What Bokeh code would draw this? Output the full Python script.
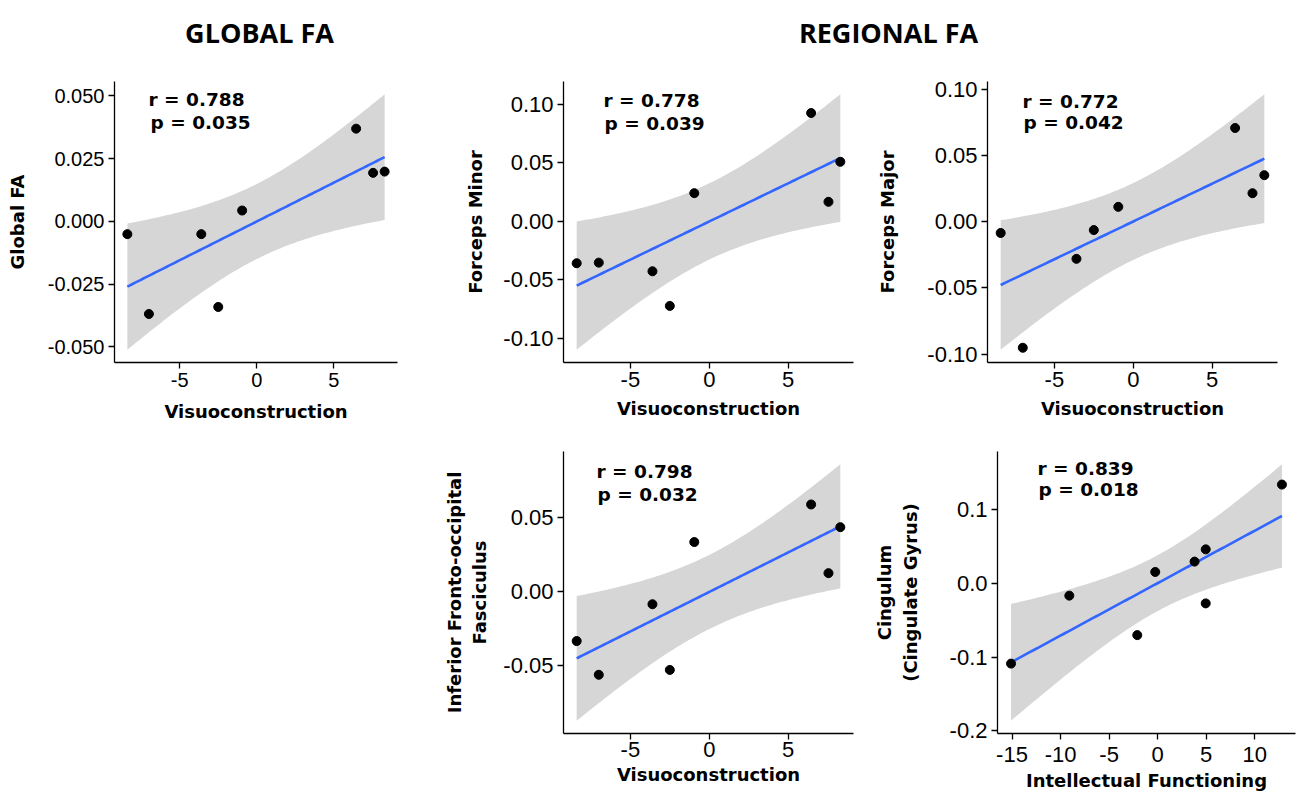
import numpy as np
from bokeh.plotting import figure
from bokeh.layouts import column, row
from bokeh.models import Range1d, FixedTicker, NumeralTickFormatter, Label, Spacer
from bokeh.core.properties import value
from bokeh.embed import file_html
from bokeh.resources import INLINE

# ---------------- data ----------------
visuo = [-8.4, -7.0, -3.6, -2.5, -0.95, 6.45, 7.55, 8.3]
global_fa = [-0.0051, -0.0369, -0.0051, -0.0341, 0.0043, 0.0369, 0.0193, 0.0198]
forceps_minor = [-0.0359, -0.0354, -0.0428, -0.0724, 0.0240, 0.0925, 0.0166, 0.0508]
forceps_major = [-0.0085, -0.0951, -0.0280, -0.0063, 0.0112, 0.0707, 0.0215, 0.0351]
ifof = [-0.0336, -0.0565, -0.0086, -0.0532, 0.0336, 0.0591, 0.0125, 0.0437]
intellect = [-15.1, -9.1, -2.1, -0.25, 3.8, 4.95, 4.95, 12.8]
cingulum = [-0.1088, -0.0167, -0.0702, 0.0154, 0.0294, 0.0460, -0.0272, 0.1338]

titles = ["GLOBAL FA", "REGIONAL FA"]
r_texts = ["r = 0.788", "r = 0.778", "r = 0.772", "r = 0.798", "r = 0.839"]
p_texts = ["p = 0.035", "p = 0.039", "p = 0.042", "p = 0.032", "p = 0.018"]
x_labels = ["Visuoconstruction", "Visuoconstruction", "Visuoconstruction",
            "Visuoconstruction", "Intellectual Functioning"]
y_labels = ["Global FA", "Forceps Minor", "Forceps Major",
            "Inferior Fronto-occipital\nFasciculus", "Cingulum\n(Cingulate Gyrus)"]
visuo_ticks = [-5, 0, 5]
intellect_ticks = [-15, -10, -5, 0, 5, 10]
global_ticks = [-0.05, -0.025, 0.0, 0.025, 0.05]
forceps_ticks = [-0.10, -0.05, 0.0, 0.05, 0.10]
ifof_ticks = [-0.05, 0.0, 0.05]
cing_ticks = [-0.2, -0.1, 0.0, 0.1]

T_975_DF6 = 2.446912  # t quantile for 95% CI, n-2 = 6 degrees of freedom

BAND = "#D6D6D6"
LINE = "#3366FF"
LABEL_FONT = "DejaVu Sans"


def fit_band(x, y):
    x = np.asarray(x, float)
    y = np.asarray(y, float)
    n = len(x)
    b1, b0 = np.polyfit(x, y, 1)
    resid = y - (b0 + b1 * x)
    s = np.sqrt(np.sum(resid ** 2) / (n - 2))
    xbar = x.mean()
    sxx = np.sum((x - xbar) ** 2)
    xg = np.linspace(x.min(), x.max(), 100)
    yg = b0 + b1 * xg
    se = s * np.sqrt(1.0 / n + (xg - xbar) ** 2 / sxx)
    return xg, yg, yg - T_975_DF6 * se, yg + T_975_DF6 * se


def expand(lo, hi, f=0.05):
    d = (hi - lo) * f
    return lo - d, hi + d


def panel(x, y, xlab, ylab, xticks, yticks, yfmt, r_txt, p_txt,
          canvas, frame, txt_pos, tick_size, ylab_standoff, xtick_standoff, xlab_standoff):
    # canvas = (left, top, width, height) and frame = (left, top, right, bottom), page pixels
    cx, cy, w, h = canvas
    fl, ft, fr, fb = frame
    mbl, mbt = fl - cx, ft - cy
    mbr, mbb = cx + w - fr, cy + h - fb
    fw, fh = fr - fl, fb - ft

    xg, yg, lo, hi = fit_band(x, y)
    x0, x1 = expand(min(x), max(x))
    y0, y1 = expand(min(min(y), lo.min()), max(max(y), hi.max()))
    p = figure(width=w, height=h, x_range=Range1d(x0, x1), y_range=Range1d(y0, y1),
               output_backend="svg", toolbar_location=None, title=None,
               min_border_left=mbl, min_border_right=mbr,
               min_border_top=mbt, min_border_bottom=mbb)
    p.grid.visible = False
    p.outline_line_color = None
    p.background_fill_color = "white"
    p.border_fill_color = "white"

    p.varea(x=xg, y1=lo, y2=hi, fill_color=BAND, fill_alpha=1.0)
    p.line(x=xg, y=yg, line_color=LINE, line_width=2.6)
    p.scatter(x=x, y=y, size=9, fill_color="black", line_color="black")

    for ax in (p.xaxis[0], p.yaxis[0]):
        ax.axis_line_color = "black"
        ax.axis_line_width = 1.3
        ax.major_tick_line_color = "black"
        ax.major_tick_line_width = 1.3
        ax.major_tick_out = 6
        ax.major_tick_in = 0
        ax.minor_tick_line_color = None
        ax.major_label_text_font = "Liberation Sans"
        ax.major_label_text_font_size = tick_size
        ax.major_label_text_color = "black"
        ax.axis_label_text_font = LABEL_FONT
        ax.axis_label_text_font_style = "bold"
        ax.axis_label_text_font_size = "18px"
        ax.axis_label_text_color = "black"

    p.xaxis.ticker = FixedTicker(ticks=xticks)
    p.xaxis.formatter = NumeralTickFormatter(format="0")
    p.xaxis.axis_label = xlab
    p.xaxis.major_label_standoff = xtick_standoff
    p.xaxis.axis_label_standoff = xlab_standoff

    p.yaxis.ticker = FixedTicker(ticks=yticks)
    p.yaxis.formatter = NumeralTickFormatter(format=yfmt)
    p.yaxis.axis_label = ylab
    p.yaxis.major_label_standoff = 4
    p.yaxis.axis_label_standoff = ylab_standoff

    def to_x(px):
        return x0 + (px - fl) / fw * (x1 - x0)

    def to_y(py):
        return y1 - (py - ft) / fh * (y1 - y0)

    (dxr, dyr), (dxp, dyp) = txt_pos
    for txt, dx, dy in ((r_txt, dxr, dyr), (p_txt, dxp, dyp)):
        p.add_layout(Label(x=to_x(fl + dx), y=to_y(ft + dy),
                           text=txt, text_font=LABEL_FONT, text_font_style="bold",
                           text_font_size="18.5px", text_color="black",
                           text_align="left", text_baseline="middle"))
    return p


# title strip (page coordinates: x 0..1298, y 0..50)
tf = figure(width=1298, height=50, x_range=Range1d(0, 1298), y_range=Range1d(50, 0),
            output_backend="svg", toolbar_location=None, title=None,
            x_axis_location=None, y_axis_location=None,
            min_border_left=0, min_border_right=0, min_border_top=0, min_border_bottom=0)
tf.grid.visible = False
tf.outline_line_color = None
tf.text(x=[259, 888], y=[32, 32], text=titles, text_font=value("Open Sans"),
        text_font_style="bold", text_font_size="27px", text_color="black",
        text_align="center", text_baseline="alphabetic")

p1 = panel(visuo, global_fa, x_labels[0], y_labels[0], visuo_ticks, global_ticks, "0.000",
           r_texts[0], p_texts[0], (0, 50, 440, 390), (114, 73, 397, 362),
           ((34, 19), (36, 42)), "20px", 17, 4, 11)
p2 = panel(visuo, forceps_minor, x_labels[1], y_labels[1], visuo_ticks, forceps_ticks, "0.00",
           r_texts[1], p_texts[1], (440, 50, 430, 390), (563, 80, 853, 369),
           ((40, 20), (41, 43)), "22px", 14, 3, 8)
p3 = panel(visuo, forceps_major, x_labels[2], y_labels[2], visuo_ticks, forceps_ticks, "0.00",
           r_texts[2], p_texts[2], (870, 50, 428, 390), (987, 81, 1277, 369),
           ((35, 20), (36, 42)), "22px", 26, 3, 8)
p4 = panel(visuo, ifof, x_labels[3], y_labels[3], visuo_ticks, ifof_ticks, "0.00",
           r_texts[3], p_texts[3], (440, 440, 430, 358), (563, 451, 853, 740),
           ((33, 21), (34, 44)), "22px", 10, 2, 4)
p5 = panel(intellect, cingulum, x_labels[4], y_labels[4], intellect_ticks, cing_ticks, "0.0",
           r_texts[4], p_texts[4], (870, 440, 428, 358), (997, 446, 1295, 733),
           ((40, 17), (41, 39)), "22px", 26, 7, 5)

layout = column(tf, row(p1, p2, p3), row(Spacer(width=440, height=358), p4, p5))

open("out.html", "w").write(file_html(layout, INLINE))
